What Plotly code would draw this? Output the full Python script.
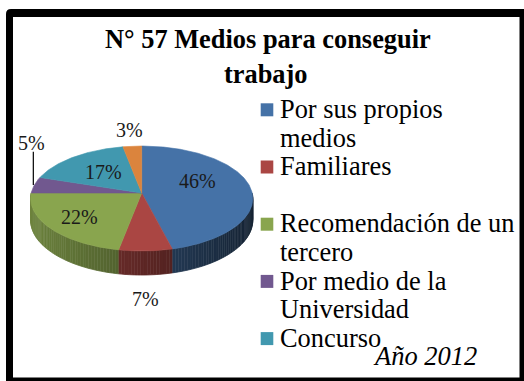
import textwrap
import numpy as np
import plotly.graph_objects as go

# ---- data -------------------------------------------------------------
categories = ["Por sus propios medios", "Familiares", "Recomendación de un tercero",
              "Por medio de la Universidad", "Concurso", "Otros"]
percentages = [46, 7, 22, 5, 17, 3]
colors = ["#4572A7", "#AA4643", "#89A54E", "#71588F", "#4198AF", "#DB843D"]
title_lines = ["N° 57 Medios para conseguir", "trabajo"]
year_note = "Año 2012"
legend_count = 5          # entries that fit in the legend box

# ---- geometry / style -------------------------------------------------
W, H = 524, 381
CX, CY = 141.7, 193.0     # pie centre (px)
RX, RY = 110.5, 51.9      # ellipse radii of the top face
PERSP = 0.105             # perspective strength (near side larger)
DEPTH = 21.5              # thickness of the pie
SERIF = "Liberation Serif, Times New Roman, serif"
TITLE_FS = 26.4
LEG_FS = 26.4
NOTE_FS = 26.5
LABEL_FS = 20

# label placement per slice: (radius factor, vertical drop in px)
label_place = [(0.51, -9.0), (1.0, 43.0), (0.70, 0.0), (1.03, -42.7), (0.55, 0.0), (1.3, -4.0)]
leader_for = {3}          # slices whose label gets a leader line


def project(r, phi_deg, drop=0.0):
    phi = np.radians(phi_deg)
    u = r * np.sin(phi)
    v = -r * np.cos(phi)
    s = 1.0 / (1.0 - PERSP * v)
    return CX + RX * u * s, CY + (RY * v + drop) * s


def shade(hex_color, f):
    h = hex_color.lstrip("#")
    rgb = [int(h[i:i + 2], 16) for i in (0, 2, 4)]
    return "rgb({},{},{})".format(*[max(0, min(255, int(round(c * f)))) for c in rgb])


total = float(sum(percentages))
bounds = np.concatenate([[0.0], np.cumsum(percentages) / total * 360.0])

fig = go.Figure()

# side walls (front half only, 90..270 deg clockwise from 12 o'clock)
for i, col in enumerate(colors):
    a0, a1 = max(bounds[i], 90.0), min(bounds[i + 1], 270.0)
    if a1 <= a0:
        continue
    n = max(2, int(np.ceil((a1 - a0) / 1.5)))
    edges = np.linspace(a0, a1, n + 1)
    for b0, b1 in zip(edges[:-1], edges[1:]):
        arc = np.linspace(b0, b1, 4)
        tx, ty = project(1.0, arc)
        bx, by = project(1.0, arc[::-1], DEPTH)
        f = 0.55 - 0.25 * np.sin(np.radians((b0 + b1) / 2))
        c = shade(col, f)
        fig.add_trace(go.Scatter(
            x=np.concatenate([tx, bx]), y=np.concatenate([ty, by]),
            mode="lines", fill="toself", fillcolor=c,
            line=dict(color=c, width=0.8), hoverinfo="skip", showlegend=False))

# top faces
for i, col in enumerate(colors):
    arc = np.linspace(bounds[i], bounds[i + 1], max(3, int((bounds[i + 1] - bounds[i]) * 2)))
    ax_, ay_ = project(1.0, arc)
    fig.add_trace(go.Scatter(
        x=np.concatenate([[CX], ax_, [CX]]), y=np.concatenate([[CY], ay_, [CY]]),
        mode="lines", fill="toself", fillcolor=col,
        line=dict(color=col, width=0.6), name=categories[i],
        hoverinfo="skip", showlegend=False))

annotations = []
shapes = []

# frame around the chart
shapes.append(dict(type="path", path="M 6,14 Q 6,9 11,9 L 524,9 L 524,381 L 6,381 Z",
                   xref="x", yref="y", fillcolor="black", line=dict(width=0), layer="below"))
shapes.append(dict(type="rect", x0=13, y0=17, x1=519.5, y1=377.5, xref="x", yref="y",
                   fillcolor="white", line=dict(width=0), layer="below"))

# percentage labels
for i, p in enumerate(percentages):
    mid = (bounds[i] + bounds[i + 1]) / 2
    r, drop = label_place[i]
    lx, ly = project(r, mid, drop)
    annotations.append(dict(x=float(lx), y=float(ly), xref="x", yref="y", text=f"{p}%",
                            showarrow=False, xanchor="center", yanchor="middle",
                            font=dict(family=SERIF, size=LABEL_FS, color="#1a1a1a")))
    if i in leader_for:
        ex, ey = project(1.0, mid)
        shapes.append(dict(type="line", x0=float(ex) - 1, x1=float(ex) - 1,
                           y0=float(ly) + 9, y1=float(ey), xref="x", yref="y",
                           line=dict(color="black", width=1.2)))

# title
for txt, (tx, base) in zip(title_lines, [(268, 47.7), (266, 83.0)]):
    annotations.append(dict(x=tx, y=base - 0.34 * TITLE_FS, xref="x", yref="y",
                            text=f"<b>{txt}</b>", showarrow=False,
                            xanchor="center", yanchor="middle",
                            font=dict(family=SERIF, size=TITLE_FS, color="black")))

# legend
LEG_TOP = 118.0
LEG_PITCH = 28.6
for i in range(legend_count):
    lines = textwrap.wrap(categories[i], 19)
    for j, line in enumerate(lines):
        base = LEG_TOP + LEG_PITCH * (2 * i + j)
        if j == 0:
            shapes.append(dict(type="rect", x0=260.7, x1=273.3, y0=base - 14.7, y1=base - 1.7,
                               xref="x", yref="y", fillcolor=colors[i], line=dict(width=0)))
        annotations.append(dict(x=277.5, y=base - 0.34 * LEG_FS, xref="x", yref="y",
                                text=line, showarrow=False, xanchor="left", yanchor="middle",
                                font=dict(family=SERIF, size=LEG_FS, color="black")))

# year note
annotations.append(dict(x=371, y=365 - 0.34 * NOTE_FS, xref="x", yref="y",
                        text=f"<i>{year_note}</i>", showarrow=False,
                        xanchor="left", yanchor="middle",
                        font=dict(family=SERIF, size=NOTE_FS, color="black")))

fig.update_layout(
    width=W, height=H, margin=dict(l=0, r=0, t=0, b=0),
    paper_bgcolor="white", plot_bgcolor="rgba(0,0,0,0)",
    xaxis=dict(range=[0, W], visible=False, fixedrange=True),
    yaxis=dict(range=[H, 0], visible=False, fixedrange=True),
    shapes=shapes, annotations=annotations, showlegend=False,
)

fig.write_html("out.html")
